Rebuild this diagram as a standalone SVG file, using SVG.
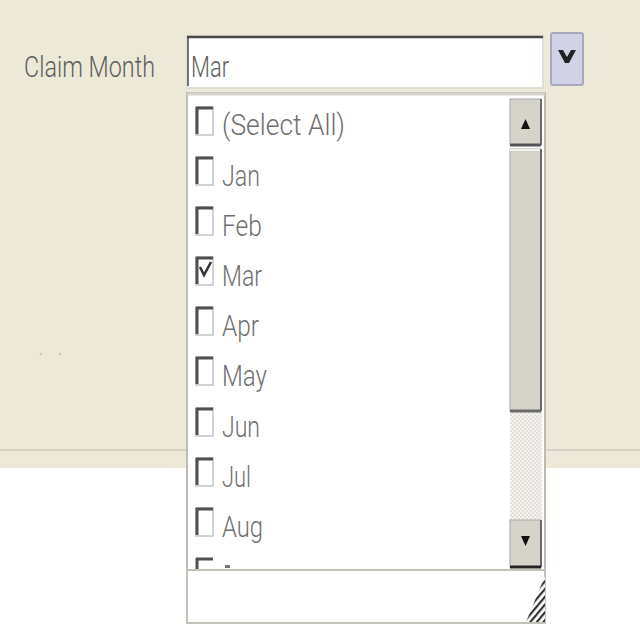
<svg xmlns="http://www.w3.org/2000/svg" width="640" height="640" viewBox="0 0 640 640">
<style>
.lbl{font-family:Roboto,"Liberation Sans",Arial,sans-serif;font-weight:300;font-size:30px;fill:#6f6f6f}
.cb{fill:#ffffff;stroke:#c4c4c4;stroke-width:1.5}
.cbt{stroke:#505050;stroke-width:3}
.btn{fill:#d6d3cb;stroke:#a8a8a8;stroke-width:1}
</style>
<defs>
<pattern id="dots" width="4" height="4" patternUnits="userSpaceOnUse">
<rect width="4" height="4" fill="#f4f3ef"/>
<rect width="2" height="2" fill="#e2e0d9"/>
<rect x="2" y="2" width="2" height="2" fill="#e2e0d9"/>
</pattern>
<pattern id="grip" width="5" height="5" patternUnits="userSpaceOnUse" patternTransform="rotate(40)">
<rect width="5" height="5" fill="#ffffff"/>
<rect width="2.2" height="5" fill="#333"/>
</pattern>
</defs>
<rect x="0" y="0" width="640" height="640" fill="#ffffff"/>
<rect x="0" y="0" width="640" height="468" fill="#ece9d9"/>
<rect x="0" y="449" width="640" height="2" fill="#d6d3c4"/>
<circle cx="41" cy="354" r="1.2" fill="#c8c6bb"/>
<circle cx="60" cy="354" r="1.2" fill="#c8c6bb"/>

<g id="label">
<text x="24" y="77" font-family="Roboto,Liberation Sans,Arial,sans-serif" font-weight="300" font-size="29" fill="#5e5e5e" textLength="131" lengthAdjust="spacingAndGlyphs">Claim Month</text>
</g>

<g id="input">
<rect x="187" y="36" width="356" height="52" fill="#ffffff" stroke="#e0ddd2" stroke-width="2"/>
<line x1="187" y1="37" x2="543" y2="37" stroke="#4a4a4a" stroke-width="2.5"/>
<line x1="188" y1="37" x2="188" y2="86" stroke="#4a4a4a" stroke-width="1.5"/>
<text x="191" y="77" font-family="Roboto,Liberation Sans,Arial,sans-serif" font-weight="300" font-size="29" fill="#5e5e5e" textLength="38" lengthAdjust="spacingAndGlyphs">Mar</text>
</g>

<g id="dropdown-button">
<rect x="551" y="33" width="32" height="52" rx="2" fill="#d2d2e6" stroke="#a9a9bd" stroke-width="2"/>
<path d="M558 50 L563 50 L567 57 L571 50 L576 50 L569 63 L565 63 Z" fill="#222"/>
</g>

<g id="list">
<rect x="187" y="93" width="358" height="530" fill="#ffffff" stroke="#bdbab0" stroke-width="2"/>
<line x1="187" y1="94" x2="545" y2="94" stroke="#d8d5cc" stroke-width="3"/>
<g id="items">
<g id="item-selectall"><rect class="cb" x="196" y="107" width="17" height="28"/><line class="cbt" x1="196" y1="108" x2="213" y2="108"/><line class="cbt" x1="197" y1="107" x2="197" y2="134" stroke-width="1.5"/><text class="lbl" x="222" y="135" textLength="123" lengthAdjust="spacingAndGlyphs">(Select All)</text></g>
<g id="item-jan"><rect class="cb" x="196" y="157" width="17" height="28"/><line class="cbt" x1="196" y1="158" x2="213" y2="158"/><line class="cbt" x1="197" y1="157" x2="197" y2="184" stroke-width="1.5"/><text class="lbl" x="222" y="186" textLength="38" lengthAdjust="spacingAndGlyphs">Jan</text></g>
<g id="item-feb"><rect class="cb" x="196" y="207" width="17" height="28"/><line class="cbt" x1="196" y1="208" x2="213" y2="208"/><line class="cbt" x1="197" y1="207" x2="197" y2="234" stroke-width="1.5"/><text class="lbl" x="222" y="236" textLength="40" lengthAdjust="spacingAndGlyphs">Feb</text></g>
<g id="item-mar"><rect class="cb" x="196" y="257" width="17" height="28"/><line class="cbt" x1="196" y1="258" x2="213" y2="258"/><line class="cbt" x1="197" y1="257" x2="197" y2="284" stroke-width="1.5"/><path d="M200 267 L204 275 L211 262" fill="none" stroke="#333" stroke-width="2.5"/><text class="lbl" x="222" y="286" textLength="40" lengthAdjust="spacingAndGlyphs">Mar</text></g>
<g id="item-apr"><rect class="cb" x="196" y="307" width="17" height="28"/><line class="cbt" x1="196" y1="308" x2="213" y2="308"/><line class="cbt" x1="197" y1="307" x2="197" y2="334" stroke-width="1.5"/><text class="lbl" x="222" y="336" textLength="37" lengthAdjust="spacingAndGlyphs">Apr</text></g>
<g id="item-may"><rect class="cb" x="196" y="357" width="17" height="28"/><line class="cbt" x1="196" y1="358" x2="213" y2="358"/><line class="cbt" x1="197" y1="357" x2="197" y2="384" stroke-width="1.5"/><text class="lbl" x="222" y="386" textLength="45" lengthAdjust="spacingAndGlyphs">May</text></g>
<g id="item-jun"><rect class="cb" x="196" y="408" width="17" height="28"/><line class="cbt" x1="196" y1="409" x2="213" y2="409"/><line class="cbt" x1="197" y1="408" x2="197" y2="435" stroke-width="1.5"/><text class="lbl" x="222" y="437" textLength="38" lengthAdjust="spacingAndGlyphs">Jun</text></g>
<g id="item-jul"><rect class="cb" x="196" y="458" width="17" height="28"/><line class="cbt" x1="196" y1="459" x2="213" y2="459"/><line class="cbt" x1="197" y1="458" x2="197" y2="485" stroke-width="1.5"/><text class="lbl" x="222" y="487" textLength="29" lengthAdjust="spacingAndGlyphs">Jul</text></g>
<g id="item-aug"><rect class="cb" x="196" y="508" width="17" height="28"/><line class="cbt" x1="196" y1="509" x2="213" y2="509"/><line class="cbt" x1="197" y1="508" x2="197" y2="535" stroke-width="1.5"/><text class="lbl" x="222" y="537" textLength="41" lengthAdjust="spacingAndGlyphs">Aug</text></g>
<g id="item-partial"><rect x="196" y="557" width="17" height="12" fill="#fff"/><line class="cbt" x1="196" y1="559" x2="213" y2="559"/><line class="cbt" x1="197" y1="558" x2="197" y2="569" stroke-width="1.5"/><rect x="225" y="565" width="5" height="3" fill="#777"/></g>
</g>
<g id="scrollbar">
<rect x="510" y="412" width="32" height="108" fill="url(#dots)"/>
<rect class="btn" x="510" y="99" width="31" height="46"/>
<line x1="541" y1="99" x2="541" y2="145" stroke="#6a6a6a" stroke-width="2"/>
<line x1="510" y1="145" x2="541" y2="145" stroke="#555" stroke-width="3"/>
<path d="M521 129 L530 129 L525.5 119 Z" fill="#111"/>
<rect class="btn" x="510" y="149" width="31" height="262"/>
<line x1="510" y1="150" x2="541" y2="150" stroke="#f4f3ef" stroke-width="2"/>
<line x1="541" y1="149" x2="541" y2="411" stroke="#6a6a6a" stroke-width="2"/>
<line x1="510" y1="411" x2="541" y2="411" stroke="#6a6a6a" stroke-width="3"/>
<rect class="btn" x="510" y="520" width="31" height="47"/>
<line x1="541" y1="520" x2="541" y2="567" stroke="#6a6a6a" stroke-width="2"/>
<line x1="510" y1="567" x2="541" y2="567" stroke="#222" stroke-width="3"/>
<path d="M521 536 L530 536 L525.5 546 Z" fill="#111"/>
</g>
<rect x="187" y="570" width="358" height="53" fill="#ffffff" stroke="#c4c1b8" stroke-width="2"/>
<path d="M545 576 L545 622 L526 622 Z" fill="url(#grip)"/>
</g>
</svg>
